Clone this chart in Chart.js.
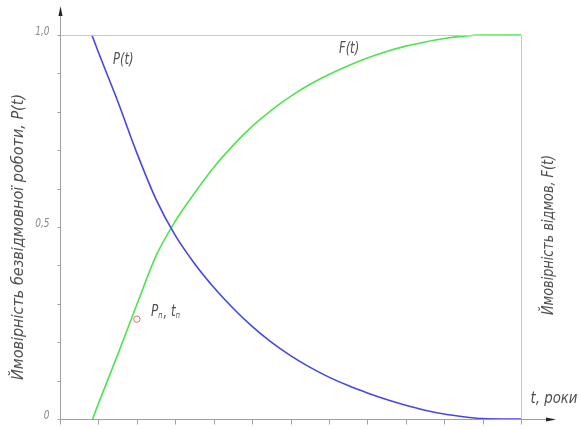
<!DOCTYPE html>
<html><head><meta charset="utf-8">
<script src="https://cdn.jsdelivr.net/npm/chart.js@4/dist/chart.umd.min.js"></script>
<style>html,body{margin:0;padding:0;background:#fff}#wrap{width:579px;height:428px}</style>
</head><body><div id="wrap"><canvas id="c" width="579" height="428"></canvas></div>
<script>
const pTimes  = [0.83,1.0,1.5,2.0,2.5,3.0,3.5,4.0,4.5,5.0,5.5,6.0,6.5,7.0,7.5,8.0,8.5,9.0,9.5,10.0,10.5,11.0,11.5,12.0];
const pValues = [1.0,0.955,0.828,0.693,0.572,0.478,0.405,0.343,0.289,0.241,0.200,0.165,0.135,0.109,0.087,0.068,0.051,0.036,0.023,0.013,0.006,0.001,0.0,0.0];
const fTimes  = [0.85,1.0,1.5,2.0,2.5,3.0,3.5,4.0,4.5,5.0,5.5,6.0,6.5,7.0,7.5,8.0,8.5,9.0,9.5,10.0,10.5,11.0,12.0];
const fValues = [0,0.04,0.167,0.298,0.425,0.515,0.588,0.655,0.712,0.762,0.804,0.840,0.871,0.897,0.920,0.940,0.957,0.971,0.982,0.991,0.997,1.0,1.0];
const markerPoint = [{x:2.0, y:0.26}];
const xTickValues = [0,1,2,3,4,5,6,7,8,9,10,11,12];
const yTickValues = [0,0.1,0.2,0.3,0.4,0.5,0.6,0.7,0.8,0.9,1.0];
const yTickLabels = {"0":"0","0.5":"0,5","1":"1,0"};
const leftTitle = "Ймовірність безвідмовної роботи, P(t)";
const rightTitle = "Ймовірність відмов, F(t)";
const xTitle = "t, роки";

const FONT = '"DejaVu Sans",sans-serif';
const TXT = '#505050';
const AX = '#a0a0a0';

// draw text squeezed horizontally (condensed drafting look)
function sqText(ctx, text, x, y, size, sx, align, color){
  ctx.save();
  ctx.font = 'italic ' + size + 'px ' + FONT;
  ctx.fillStyle = color || TXT;
  ctx.textBaseline = 'middle';
  const w = ctx.measureText(text).width * sx;
  let left = x;
  if (align === 'center') left = x - w/2;
  else if (align === 'right') left = x - w;
  ctx.translate(left, y);
  ctx.scale(sx, 1);
  ctx.textAlign = 'left';
  ctx.fillText(text, 0, 0);
  ctx.restore();
  return w;
}
function fitText(ctx, text, cx, cy, targetW, size, color){
  ctx.save();
  ctx.font = 'italic ' + size + 'px ' + FONT;
  const sx = targetW / ctx.measureText(text).width;
  ctx.restore();
  sqText(ctx, text, cx, cy, size, sx, 'center', color);
}

const deco = {
  id:'deco',
  afterDatasetsDraw(chart){
    const ctx = chart.ctx, a = chart.chartArea;
    const xs = chart.scales.x, ys = chart.scales.y;
    ctx.save();
    ctx.strokeStyle = '#c8c8c8'; ctx.lineWidth = 1;
    ctx.beginPath();
    const yTop = Math.round(ys.getPixelForValue(1))+0.5;
    ctx.moveTo(a.left, yTop); ctx.lineTo(a.right, yTop);
    ctx.moveTo(a.right+0.5, yTop); ctx.lineTo(a.right+0.5, ys.getPixelForValue(0));
    ctx.stroke();
    ctx.strokeStyle = AX; ctx.fillStyle = AX;
    const x0 = Math.round(xs.getPixelForValue(0))+0.5, y0 = Math.round(ys.getPixelForValue(0))+0.5;
    ctx.beginPath();
    ctx.moveTo(x0, y0); ctx.lineTo(x0, 14);
    ctx.moveTo(x0, y0); ctx.lineTo(548, y0);
    ctx.stroke();
    ctx.fillStyle = '#222';
    ctx.beginPath(); ctx.moveTo(x0, 6); ctx.lineTo(x0-2, 16); ctx.lineTo(x0+2, 16); ctx.closePath(); ctx.fill();
    ctx.beginPath(); ctx.moveTo(556, y0); ctx.lineTo(546, y0-2); ctx.lineTo(546, y0+2); ctx.closePath(); ctx.fill();
    ctx.strokeStyle = AX;
    ctx.beginPath();
    yTickValues.forEach(v=>{const y=Math.round(ys.getPixelForValue(v))+0.5; ctx.moveTo(x0-3,y); ctx.lineTo(x0,y);});
    xTickValues.forEach(v=>{const x=Math.round(xs.getPixelForValue(v))+0.5; ctx.moveTo(x,y0); ctx.lineTo(x,y0+5);});
    ctx.stroke();
    yTickValues.forEach(v=>{const k=String(v); if(yTickLabels[k]!==undefined) sqText(ctx, yTickLabels[k], x0-11, ys.getPixelForValue(v)-3, 12, 0.75, 'right', '#8a8a8a');});
    sqText(ctx, 'P(t)', 113, 60, 16, 0.72, 'left');
    sqText(ctx, 'F(t)', 339, 49, 16, 0.72, 'left');
    let x = 151;
    x += sqText(ctx, 'P', x, 312, 16, 0.75, 'left');
    x += sqText(ctx, 'п', x, 316, 8, 0.8, 'left');
    x += sqText(ctx, ',', x+1, 313, 15, 0.75, 'left') + 5;
    x += sqText(ctx, 't', x, 312, 16, 0.75, 'left');
    sqText(ctx, 'п', x, 316, 8, 0.8, 'left');
    fitText(ctx, xTitle, 554, 399, 47, 16);
    ctx.save(); ctx.translate(19, 237); ctx.rotate(-Math.PI/2);
    fitText(ctx, leftTitle, 0, 0, 286, 16); ctx.restore();
    ctx.save(); ctx.translate(549, 235); ctx.rotate(-Math.PI/2);
    fitText(ctx, rightTitle, 0, 0, 160, 16); ctx.restore();
    ctx.restore();
  }
};

new Chart(document.getElementById('c'), {
  type:'line',
  data:{datasets:[
    {label:'P(t)', data:pTimes.map((t,i)=>({x:t,y:pValues[i]})), borderColor:'#4646e6', borderWidth:1.6, pointRadius:0, cubicInterpolationMode:'monotone', fill:false},
    {label:'F(t)', data:fTimes.map((t,i)=>({x:t,y:fValues[i]})), borderColor:'#4ee44e', borderWidth:1.6, pointRadius:0, cubicInterpolationMode:'monotone', fill:false},
    {label:'Pп', data:markerPoint, showLine:false, pointRadius:3.2, pointBorderWidth:1, pointBorderColor:'#e07070', pointBackgroundColor:'rgba(0,0,0,0)'}
  ]},
  options:{
    responsive:false, animation:false, clip:false,
    layout:{padding:{left:60, right:58, top:35, bottom:9}},
    plugins:{legend:{display:false}, tooltip:{enabled:false}},
    scales:{
      x:{type:'linear', min:0, max:12, display:false},
      y:{type:'linear', min:0, max:1, display:false}
    }
  },
  plugins:[deco]
});
</script></body></html>
